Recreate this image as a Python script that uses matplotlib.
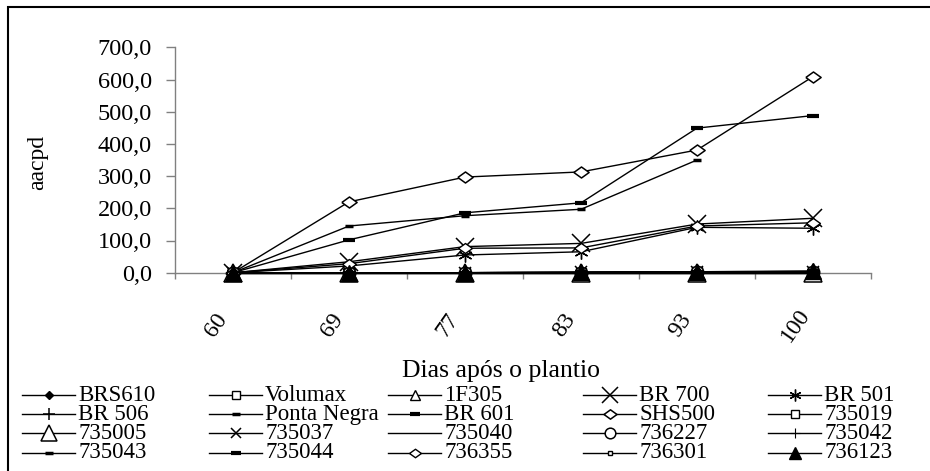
import numpy as np
import matplotlib
matplotlib.use('Agg')
import matplotlib.pyplot as plt
from matplotlib.lines import Line2D
from matplotlib.patches import Rectangle
from matplotlib.ticker import FixedLocator, FuncFormatter
import matplotlib.transforms as mtransforms

plt.rcParams['font.family'] = ['Liberation Serif', 'DejaVu Serif']

# ---------------- data ----------------
days = ['60', '69', '77', '83', '93', '100']
nan = np.nan

BRS610 = [0, 0, 0, 1, 2, 4]
Volumax = [0, 0, 0, 0, 1, 2]
F1F305 = [0, 0, 0, 0, 0, 0]
BR700 = [0, 34, 81, 91, 151, 169]
BR501 = [0, 21, 55, 65, 141, 138]
BR506 = [0, 0, 0, 0, 1, 2]
PontaNegra = [0, 145, 177, 197, 350, nan]
BR601 = [0, 102, 186, 217, 449, 488]
SHS500 = [0, 220, 297, 313, 381, 609]
S735019 = [0, 0, 0, 0, 1, 2]
S735005 = [0, 0, 0, 0, 0, 0]
S735037 = [0, 0, 0, 1, 2, 3]
S735040 = [0, 0, 0, 1, 2, 3]
S736227 = [0, 0, 0, 0, 1, 2]
S735042 = [0, 0, 0, 0, 1, 2]
S735043 = [0, 0, 0, 1, 2, 3]
S735044 = [0, 0, 0, 1, 3, 4]
S736355 = [0, 28, 76, 77, 145, 155]
S736301 = [0, 0, 0, 0, 1, 2]
S736123 = [0, 0, 0, 1, 3, 5]

names = ['BRS610', 'Volumax', '1F305', 'BR 700', 'BR 501',
         'BR 506', 'Ponta Negra', 'BR 601', 'SHS500', '735019',
         '735005', '735037', '735040', '736227', '735042',
         '735043', '735044', '736355', '736301', '736123']
series = [BRS610, Volumax, F1F305, BR700, BR501,
          BR506, PontaNegra, BR601, SHS500, S735019,
          S735005, S735037, S735040, S736227, S735042,
          S735043, S735044, S736355, S736301, S736123]
yticks = [0, 100, 200, 300, 400, 500, 600, 700]

# ---------------- styles ----------------
flat_diamond = [(-1, 0), (0, 0.72), (1, 0), (0, -0.72), (-1, 0)]
styles = {
    'BRS610': dict(marker='D', ms=5, mfc='k', mec='k'),
    'Volumax': dict(marker='s', ms=7, mfc='w', mec='k', mew=1),
    '1F305': dict(marker='^', ms=9, mfc='w', mec='k', mew=1),
    'BR 700': dict(marker='x', ms=13, mec='k', mew=1.1),
    'BR 501': dict(marker=(6, 2, 0), ms=10, mec='k', mew=1),
    'BR 506': dict(marker='+', ms=10, mec='k', mew=1.1),
    'Ponta Negra': dict(marker='_', ms=6, mec='k', mew=2.5),
    'BR 601': dict(marker='_', ms=9, mec='k', mew=3),
    'SHS500': dict(marker=flat_diamond, ms=11, mfc='w', mec='k', mew=1.1),
    '735019': dict(marker='s', ms=6, mfc='w', mec='k', mew=1),
    '735005': dict(marker='^', ms=13, mfc='w', mec='k', mew=1.1),
    '735037': dict(marker='x', ms=8, mec='k', mew=1.1),
    '735040': dict(marker='None'),
    '736227': dict(marker='o', ms=9, mfc='w', mec='k', mew=1.1),
    '735042': dict(marker='+', ms=8, mec='k', mew=0.8),
    '735043': dict(marker='_', ms=6, mec='k', mew=2.5),
    '735044': dict(marker='_', ms=9, mec='k', mew=3),
    '736355': dict(marker=flat_diamond, ms=10, mfc='w', mec='k', mew=1),
    '736301': dict(marker='s', ms=4, mfc='w', mec='k', mew=1),
    '736123': dict(marker='^', ms=11, mfc='k', mec='k'),
}

W, H = 930, 471
fig = plt.figure(figsize=(W / 100, H / 100), dpi=100)
ax = fig.add_axes([175 / W, 1 - 272.7 / H, (871 - 175) / W, (272.7 - 47.3) / H])

x = np.arange(len(days))
for name, vals in zip(names, series):
    st = styles[name]
    ax.plot(x, vals, color='k', lw=1.0, clip_on=False, zorder=3, **st)

ax.set_xlim(-0.5, len(days) - 0.5)
ax.set_ylim(0, 700)

for s in ['top', 'right']:
    ax.spines[s].set_visible(False)
for s in ['left', 'bottom']:
    ax.spines[s].set_color('#808080')
    ax.spines[s].set_linewidth(1.0)

ax.yaxis.set_major_locator(FixedLocator(yticks))
ax.yaxis.set_major_formatter(FuncFormatter(lambda v, p: f'{v:.1f}'.replace('.', ',')))
ax.tick_params(axis='y', direction='out', length=6.5, width=1, color='#808080',
               pad=10, labelsize=17.5)

ax.set_xticks(x)
ax.set_xticklabels(days)
ax.set_xticks(np.arange(len(days) + 1) - 0.5, minor=True)
ax.tick_params(axis='x', which='major', length=0, pad=38, labelsize=17,
               labelrotation=55)
ax.tick_params(axis='x', which='minor', direction='out', length=4.5, width=1,
               color='#808080')
offset = mtransforms.ScaledTranslation(-0.17, 0, fig.dpi_scale_trans)
for lab in ax.get_xticklabels():
    lab.set_ha('center')
    lab.set_va('center')
    lab.set_transform(lab.get_transform() + offset)

ax.set_xlabel('Dias após o plantio', fontsize=18.5)
ax.xaxis.set_label_coords((501 - 175) / 696, (272.7 - 377) / 225.4)
ax.xaxis.label.set_va('baseline')
ax.set_ylabel('aacpd', fontsize=17)
ax.yaxis.set_label_coords((38 - 175) / 696, (272.7 - 162) / 225.4)
ax.yaxis.label.set_va('center')

# ---------------- legend (manual grid, 5 columns x 4 rows) ----------------
col_x = [22, 209, 388, 583, 768]
row_y = [395, 414, 433, 452.5]
line_len = 53
for i, name in enumerate(names):
    r, c = divmod(i, 5)
    x0 = col_x[c]
    yy = row_y[r]
    st = styles[name]
    fig.add_artist(Line2D([x0 / W, (x0 + line_len) / W], [1 - yy / H, 1 - yy / H],
                          transform=fig.transFigure, color='k', lw=1.0))
    fig.add_artist(Line2D([(x0 + line_len / 2) / W], [1 - yy / H],
                          transform=fig.transFigure, color='k', lw=0,
                          **{k: (v * 0.85 if k == 'ms' else v) for k, v in st.items()}))
    fig.text((x0 + line_len + 3) / W, 1 - (yy + 6) / H, name, fontsize=16.5,
             ha='left', va='baseline')

# outer chart frame (left and top edges visible)
fig.add_artist(Rectangle((8 / W, -0.1), 1.2, (1 - 7 / H) + 0.1,
                         transform=fig.transFigure, fill=False,
                         edgecolor='k', lw=1.5))

fig.savefig('out.png', dpi=100)
